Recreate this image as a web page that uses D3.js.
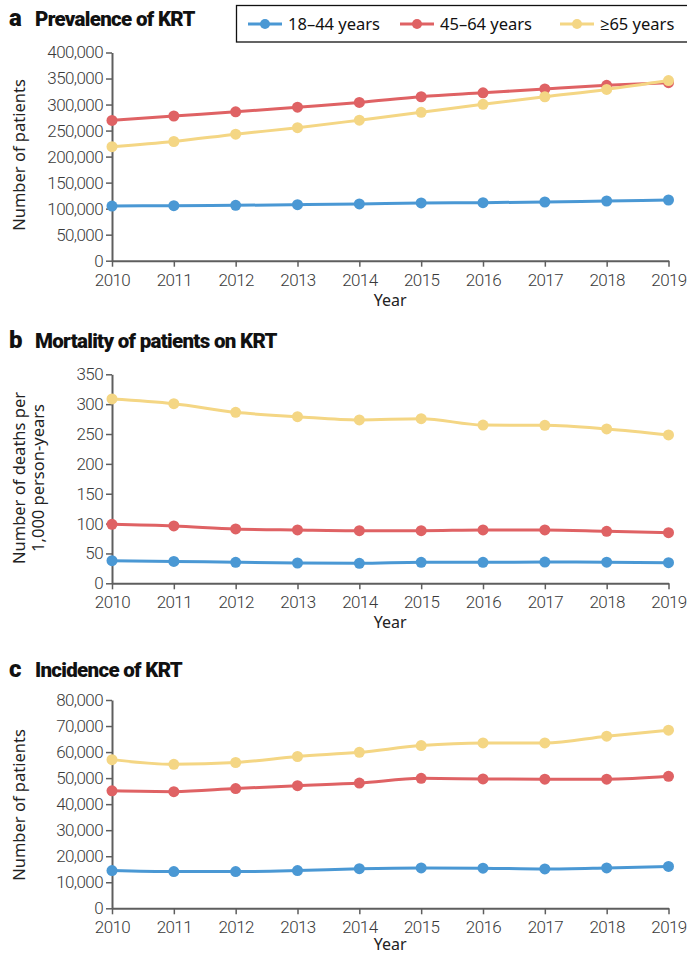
<!DOCTYPE html>
<html>
<head>
<meta charset="utf-8">
<script src="https://cdn.jsdelivr.net/npm/d3@7"></script>
<style>
  html, body { margin: 0; padding: 0; background: #fff; }
  svg { display: block; }
  .tick text { font-family: Roboto, "Liberation Sans", sans-serif; font-weight: 300; fill: #3a3a3a; }
  .axis path, .axis line { stroke: #5e5e5e; }
</style>
</head>
<body>
<svg id="chart" width="687" height="956"></svg>
<script>
// Years on the x axis
const years = [2010, 2011, 2012, 2013, 2014, 2015, 2016, 2017, 2018, 2019];

// Age groups and their colours
const groups = ["18\u201344 years", "45\u201364 years", "\u226565 years"];
const colors = ["#4a98d4", "#df6264", "#f4d684"];

// a: prevalence of KRT (number of patients)
const prevalence1844 = [105000, 105700, 106400, 107600, 109000, 111000, 111500, 112800, 114700, 116600];
const prevalence4564 = [269500, 278000, 286000, 295000, 304000, 315000, 322500, 330000, 337000, 342000];
const prevalence65 = [219000, 229000, 243000, 255500, 270000, 285000, 300500, 315000, 329000, 346000];

// b: mortality of patients on KRT (deaths per 1,000 person-years)
const mortality1844 = [37.9, 36.7, 35.2, 34.0, 33.5, 35.2, 35.2, 35.5, 35.4, 34.6];
const mortality4564 = [98.8, 96.0, 91.0, 89.3, 88.1, 88.1, 89.3, 89.3, 87.0, 84.8];
const mortality65 = [308.7, 300.8, 286.4, 279.0, 273.5, 275.7, 265.0, 264.6, 258.5, 248.5];

// c: incidence of KRT (number of patients)
const incidence1844 = [14500, 14100, 14100, 14500, 15200, 15500, 15400, 15100, 15500, 16100];
const incidence4564 = [45100, 44800, 46000, 47100, 48100, 49900, 49700, 49600, 49600, 50700];
const incidence65 = [57100, 55300, 56000, 58300, 59900, 62500, 63500, 63500, 66100, 68400];

// y tick values per panel
const ticksA = [0, 50000, 100000, 150000, 200000, 250000, 300000, 350000, 400000];
const ticksB = [0, 50, 100, 150, 200, 250, 300, 350];
const ticksC = [0, 10000, 20000, 30000, 40000, 50000, 60000, 70000, 80000];

const panels = [
  { letter: "a", title: "Prevalence of KRT", yLabel: ["Number of patients"],
    series: [prevalence1844, prevalence4564, prevalence65], ticks: ticksA,
    top: 52.5, bottom: 260.7, titleY: 26, labelCenter: 155, yearGap: 45 },
  { letter: "b", title: "Mortality of patients on KRT", yLabel: ["Number of deaths per", "1,000 person-years"],
    series: [mortality1844, mortality4564, mortality65], ticks: ticksB,
    top: 374.3, bottom: 583.3, titleY: 348, labelCenter: 478, yearGap: 45 },
  { letter: "c", title: "Incidence of KRT", yLabel: ["Number of patients"],
    series: [incidence1844, incidence4564, incidence65], ticks: ticksC,
    top: 700, bottom: 908.3, titleY: 677, labelCenter: 805, yearGap: 41.5 }
];

const svg = d3.select("#chart");
const x = d3.scaleLinear().domain([2010, 2019]).range([112, 668.5]);
const fmt = d3.format(",");
const bodyFont = "'Noto Sans', 'Open Sans', sans-serif";

panels.forEach(p => {
  const y = d3.scaleLinear()
    .domain([0, p.ticks[p.ticks.length - 1]])
    .range([p.bottom, p.top]);

  // Panel heading
  const head = svg.append("text")
    .attr("x", 9).attr("y", p.titleY)
    .attr("font-family", "Roboto, 'Liberation Sans', sans-serif")
    .attr("font-weight", 900).attr("fill", "#111");
  head.append("tspan").attr("font-size", 24).text(p.letter);
  head.append("tspan").attr("x", 35).attr("font-size", 20.5)
    .attr("letter-spacing", -0.7).text(p.title);

  // Axes
  const gy = svg.append("g").attr("class", "axis")
    .attr("transform", `translate(${x(2010)},0)`)
    .call(d3.axisLeft(y).tickValues(p.ticks).tickFormat(fmt).tickSize(6).tickSizeOuter(0).tickPadding(3));
  gy.selectAll("text").attr("font-size", 17).attr("letter-spacing", -0.6);
  gy.select(".domain").attr("stroke-width", 2);
  gy.selectAll(".tick line").attr("stroke-width", 1.5);

  const gx = svg.append("g").attr("class", "axis")
    .attr("transform", `translate(0,${p.bottom})`)
    .call(d3.axisBottom(x).tickValues(years).tickFormat(d3.format("d")).tickSize(6).tickSizeOuter(0).tickPadding(7));
  gx.selectAll("text").attr("font-size", 17).attr("letter-spacing", -0.6);
  gx.select(".domain").attr("stroke-width", 2);
  gx.selectAll(".tick line").attr("stroke-width", 1.5);

  // Axis titles
  svg.append("text")
    .attr("x", (x(2010) + x(2019)) / 2).attr("y", p.bottom + p.yearGap)
    .attr("text-anchor", "middle")
    .attr("font-family", bodyFont).attr("font-size", 16).attr("fill", "#222")
    .text("Year");

  p.yLabel.forEach((line, i) => {
    const lx = 25 + i * 19;
    svg.append("text")
      .attr("transform", `translate(${lx},${p.labelCenter}) rotate(-90)`)
      .attr("text-anchor", "middle")
      .attr("font-family", bodyFont).attr("font-size", 16.5).attr("fill", "#222")
      .text(line);
  });

  // Series lines and markers
  const line = d3.line()
    .x((d, i) => x(years[i]))
    .y(d => y(d))
    .curve(d3.curveMonotoneX);

  p.series.forEach((vals, k) => {
    svg.append("path")
      .datum(vals)
      .attr("d", line)
      .attr("fill", "none")
      .attr("stroke", colors[k])
      .attr("stroke-width", 3);
    svg.append("g").selectAll("circle")
      .data(vals)
      .join("circle")
      .attr("cx", (d, i) => x(years[i]))
      .attr("cy", d => y(d))
      .attr("r", 5.5)
      .attr("fill", colors[k]);
  });
});

// Legend
const legend = svg.append("g");
legend.append("rect")
  .attr("x", 236.5).attr("y", 5.5).attr("width", 460).attr("height", 36.5)
  .attr("fill", "#fff").attr("stroke", "#111").attr("stroke-width", 1.3);
const legendX = [248, 400, 560];
groups.forEach((g, k) => {
  const lx = legendX[k];
  legend.append("line")
    .attr("x1", lx).attr("x2", lx + 34).attr("y1", 24).attr("y2", 24)
    .attr("stroke", colors[k]).attr("stroke-width", 3);
  legend.append("circle")
    .attr("cx", lx + 17).attr("cy", 24).attr("r", 5).attr("fill", colors[k]);
  legend.append("text")
    .attr("x", lx + 40).attr("y", 30)
    .attr("font-family", bodyFont).attr("font-size", 16.5).attr("fill", "#111")
    .text(g);
});
</script>
</body>
</html>
